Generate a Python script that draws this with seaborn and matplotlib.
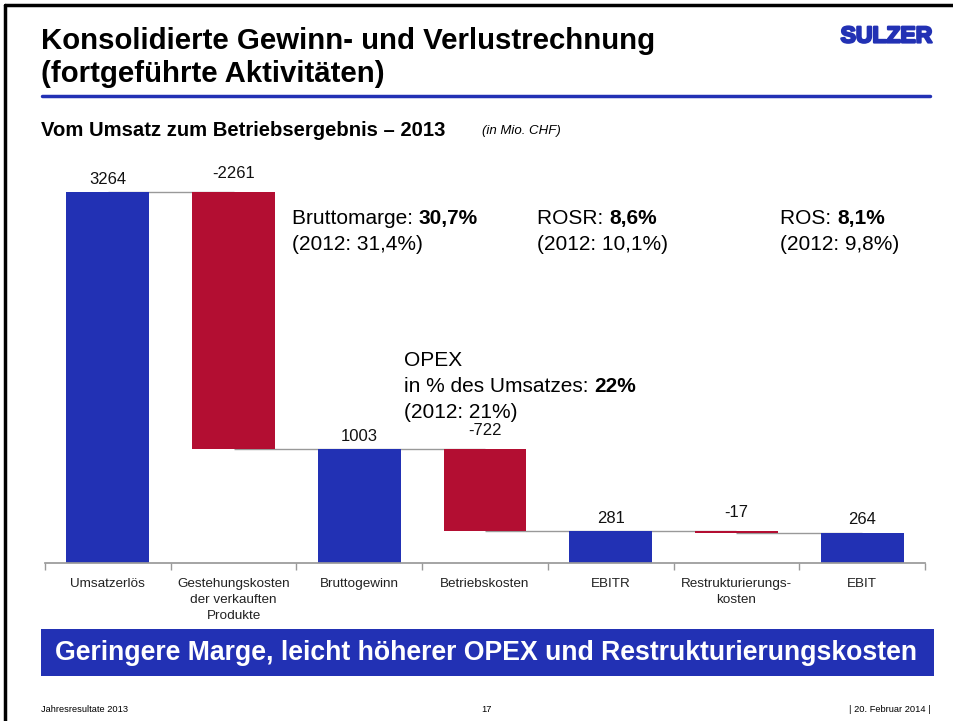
import numpy as np
import pandas as pd
import matplotlib
matplotlib.use("Agg")
import matplotlib.pyplot as plt
import matplotlib.patheffects as pe
import seaborn as sns

# Daten (Mio. CHF)
categories = ["Umsatzerlös", "Gestehungskosten\nder verkauften\nProdukte", "Bruttogewinn",
              "Betriebskosten", "EBITR", "Restrukturierungs-\nkosten", "EBIT"]
values = [3264, -2261, 1003, -722, 281, -17, 264]
is_total = [True, False, True, False, True, False, True]

BLUE = "#2231B4"
RED = "#B30E32"
W, H = 954, 721

sns.set_theme(style="white")
plt.rcParams["font.family"] = ["Liberation Sans", "DejaVu Sans"]
plt.rcParams["text.color"] = "black"

# Wasserfall: Basis und Höhe berechnen
bases, heights, running = [], [], 0
for v, tot in zip(values, is_total):
    if tot:
        bases.append(0)
        heights.append(v)
        running = v
    else:
        bases.append(running + v)
        heights.append(-v)
        running += v
df = pd.DataFrame({"cat": categories, "base": bases, "height": heights, "value": values})


def fx(px):
    return px / W


def fy(py):
    return 1 - py / H


fig = plt.figure(figsize=(W / 100, H / 100), dpi=100)
ax = fig.add_axes([fx(45), fy(563), (925 - 45) / W, 420 / H])

sns.barplot(data=df, x="cat", y="height", order=categories, bottom=df["base"].to_numpy(),
            color=BLUE, width=0.66, errorbar=None, ax=ax, zorder=2, linewidth=0)
for p, tot in zip(ax.patches, is_total):
    p.set_facecolor(BLUE if tot else RED)

ax.set_xlim(-0.5, 6.5)
ax.set_ylim(0, 3700)

# Verbindungslinien
for i in range(len(values) - 1):
    level = df["base"][i] + df["height"][i] if is_total[i] else df["base"][i]
    ax.hlines(level, i, i + 1, color="#999999", lw=1, zorder=1)

# Wertbeschriftungen
for i, row in df.iterrows():
    top = row["base"] + row["height"]
    off = 4 if is_total[i] else 8
    ax.annotate(f"{row['value']}", (i, top), xytext=(0, off), textcoords="offset points",
                ha="center", va="bottom", fontsize=12, color="#111111")

# Achsen
for s in ["top", "left", "right"]:
    ax.spines[s].set_visible(False)
ax.spines["bottom"].set_color("#999999")
ax.set_yticks([])
ax.set_xlabel("")
ax.set_ylabel("")
ax.set_xticks(range(len(categories)))
ax.set_xticklabels(categories, fontsize=9.7, color="#222222", linespacing=1.45)
ax.tick_params(axis="x", which="major", length=0, pad=11)
ax.set_xticks(np.arange(-0.5, 7, 1), minor=True)
ax.tick_params(axis="x", which="minor", length=5, color="#999999", bottom=True)

# Rahmen
fig.add_artist(plt.Line2D([fx(5), 1], [fy(5), fy(5)], color="black", lw=2.5))
fig.add_artist(plt.Line2D([fx(5), fx(5)], [fy(5), 0], color="black", lw=2.5))

# Titel
fig.text(fx(41), fy(41), "Konsolidierte Gewinn- und Verlustrechnung", fontsize=21.2,
         fontweight="bold", va="center", ha="left")
fig.text(fx(41), fy(74), "(fortgeführte Aktivitäten)", fontsize=21.2,
         fontweight="bold", va="center", ha="left")
fig.text(fx(932), fy(36), "SULZER", fontsize=16.5, fontweight="heavy", va="center",
         ha="right", color=BLUE,
         path_effects=[pe.withStroke(linewidth=1.6, foreground=BLUE)])
fig.add_artist(plt.Line2D([fx(42), fx(930)], [fy(96), fy(96)], color=BLUE, lw=2.5))

fig.text(fx(41), fy(131), "Vom Umsatz zum Betriebsergebnis – 2013", fontsize=14.6,
         fontweight="bold", va="center", ha="left")
fig.text(fx(482), fy(131), "(in Mio. CHF)", fontsize=9.5, style="italic", va="center", ha="left")

ANN = 15


def mixed_line(x, y, normal, bold, size=ANN):
    t1 = fig.text(fx(x), fy(y), normal, fontsize=size, va="baseline", ha="left")
    ax.annotate(bold, xy=(1, 0), xycoords=t1, fontsize=size, fontweight="bold",
                va="bottom", ha="left", annotation_clip=False)


mixed_line(292, 224, "Bruttomarge: ", "30,7%")
fig.text(fx(292), fy(250), "(2012: 31,4%)", fontsize=ANN, va="baseline", ha="left")
mixed_line(537, 224, "ROSR: ", "8,6%")
fig.text(fx(537), fy(250), "(2012: 10,1%)", fontsize=ANN, va="baseline", ha="left")
mixed_line(780, 224, "ROS: ", "8,1%")
fig.text(fx(780), fy(250), "(2012: 9,8%)", fontsize=ANN, va="baseline", ha="left")

fig.text(fx(404), fy(366), "OPEX", fontsize=ANN, va="baseline", ha="left")
mixed_line(404, 392, "in % des Umsatzes: ", "22%")
fig.text(fx(404), fy(418), "(2012: 21%)", fontsize=ANN, va="baseline", ha="left")

# Banner
fig.add_artist(plt.Rectangle((fx(41), fy(676)), (934 - 41) / W, 47 / H,
                             facecolor=BLUE, edgecolor="none", transform=fig.transFigure))
fig.text(fx(486), fy(653), "Geringere Marge, leicht höherer OPEX und Restrukturierungskosten",
         fontsize=19.2, fontweight="bold", color="white", ha="center", va="center")

# Fußzeile
fig.text(fx(41), fy(710), "Jahresresultate 2013", fontsize=6.7, va="center", ha="left")
fig.text(fx(486), fy(710), "17", fontsize=6.7, va="center", ha="center")
fig.text(fx(931), fy(710), "| 20. Februar 2014 |", fontsize=6.7, va="center", ha="right")

fig.savefig("out.png", dpi=100)
